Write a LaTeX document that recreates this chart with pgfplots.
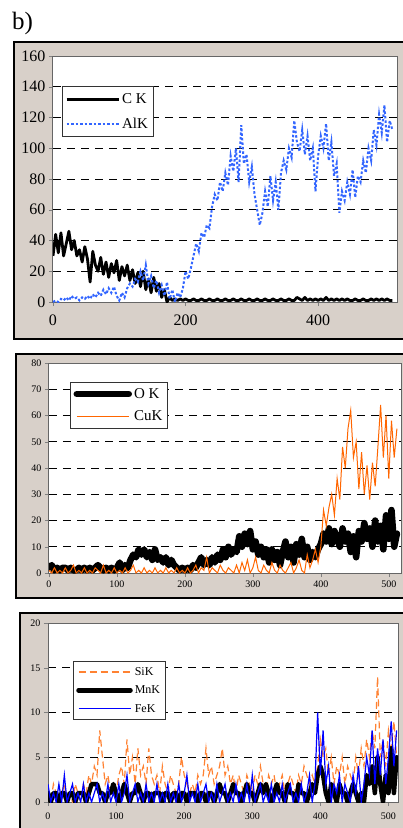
\documentclass[border=0pt]{standalone}
\usepackage{fontspec}
\setmainfont{Liberation Serif}
\usepackage{pgfplots}
\pgfplotsset{compat=1.18}
\usepackage{pgfplotstable}
\definecolor{framegrey}{RGB}{216,208,201}
\definecolor{alblue}{RGB}{51,102,255}
\definecolor{cuorange}{RGB}{255,102,0}
\definecolor{siorange}{RGB}{255,130,50}
\definecolor{feblue}{RGB}{0,0,255}

\pgfplotstableread{
x ck alk
0 30 0
4 44 1
8 32 0
12 45 2
16 30 1
20 38 3
24 46 1
28 34 4
32 40 2
36 30 3
40 34 1
44 26 3
48 36 2
52 28 4
56 13 2
60 33 5
64 24 3
68 20 6
72 29 4
76 18 8
80 26 5
84 16 9
88 25 6
92 19 10
96 27 4
100 14 1
104 23 6
108 17 3
112 24 9
116 14 12
120 21 10
124 12 15
128 19 13
132 10 20
136 20 14
140 8 24
144 15 12
148 6 17
152 16 9
156 7 14
160 12 6
164 3 11
168 8 4
172 0 13
176 3 2
180 1 8
184 2 0
188 1 6
192 2 3
196 1 9
200 2 20
204 1 15
208 1 22
212 2 30
216 1 38
220 1 33
224 2 45
228 1 42
232 1 50
236 2 48
240 1 62
244 1 70
248 2 66
252 1 78
256 1 72
260 2 84
264 1 76
268 1 95
272 2 85
276 1 100
280 1 78
284 2 115
288 1 90
292 1 96
296 2 78
300 1 88
304 1 70
308 2 60
312 1 50
316 1 58
320 2 72
324 1 62
328 1 82
332 2 66
336 1 78
340 1 60
344 2 84
348 1 92
352 1 86
356 2 100
360 1 94
364 1 118
368 3 104
372 2 98
376 1 112
380 3 96
384 1 108
388 2 92
392 1 100
396 2 72
400 1 95
404 2 108
408 1 100
412 3 116
416 1 92
420 2 104
424 1 82
428 2 90
432 1 58
436 2 72
440 1 66
444 2 78
448 1 70
452 1 86
456 2 68
460 1 82
464 1 78
468 2 92
472 1 84
476 1 100
480 2 92
484 1 112
488 2 102
492 1 122
496 2 110
500 1 128
504 2 104
508 1 118
512 1 112
}\tabA

\pgfplotstableread{
x ok cu
0 2 1
4 3 0
8 1 2
12 2 0
16 1 1
20 2 0
24 2 2
28 1 0
32 2 1
36 1 3
40 1 0
44 2 1
48 1 0
52 2 2
56 1 0
60 2 1
64 1 0
68 2 2
72 3 1
76 2 0
80 1 3
84 2 0
88 1 1
92 2 0
96 1 2
100 2 0
104 4 1
108 1 0
112 3 2
116 2 0
120 5 1
124 7 3
128 6 0
132 9 1
136 7 0
140 9 2
144 6 0
148 8 1
152 5 0
156 9 2
160 5 0
164 6 1
168 4 0
172 6 2
176 3 0
180 5 1
184 3 0
188 2 2
192 1 0
196 2 1
200 1 0
204 2 2
208 1 0
212 3 1
216 2 3
220 4 0
224 6 2
228 3 1
232 5 6
236 3 0
240 6 2
244 4 1
248 7 0
252 5 3
256 9 1
260 6 0
264 10 2
268 7 1
272 9 0
276 8 3
280 14 0
284 10 4
288 15 1
292 11 5
296 16 0
300 9 2
304 12 6
308 7 1
312 10 0
316 6 3
320 9 1
324 4 0
328 9 4
332 5 1
336 8 0
340 3 3
344 8 1
348 12 0
352 6 2
356 10 4
360 4 0
364 11 2
368 7 5
372 13 1
376 6 0
380 10 7
384 5 2
388 8 5
392 6 9
396 9 4
400 11 10
404 15 24
408 12 18
412 17 25
416 11 30
420 16 22
424 13 36
428 10 28
432 17 48
436 12 40
440 15 55
444 8 62
448 14 44
452 6 50
456 16 32
460 12 46
464 19 30
468 13 41
472 17 28
476 10 42
480 20 33
484 12 48
488 18 64
492 9 44
496 22 60
500 13 36
504 24 58
508 10 44
512 15 55
}\tabB

\pgfplotstableread{
x si mn fe
0 1 1 2
4 0 0 0
8 2 1 1
12 1 1 0
16 0 0 2
20 1 1 0
24 2 1 3
28 0 0 0
32 1 1 1
36 0 1 2
40 2 0 0
44 1 1 1
48 0 1 0
52 2 1 2
56 1 0 0
60 3 1 1
64 2 2 0
68 4 2 1
72 3 2 2
76 8 1 0
80 5 1 1
84 2 0 0
88 3 1 2
92 1 1 0
96 2 2 1
100 1 1 0
104 3 0 2
108 4 1 0
112 2 2 1
116 7 1 3
120 3 0 0
124 5 1 1
128 2 1 2
132 6 2 0
136 3 1 1
140 4 0 0
144 2 1 2
148 6 1 0
152 3 0 1
156 2 1 0
160 3 1 2
164 1 1 0
168 4 0 1
172 2 1 0
176 1 1 2
180 3 0 0
184 2 1 1
188 1 1 0
192 2 0 2
196 5 1 0
200 3 1 1
204 2 0 3
208 1 1 0
212 2 1 1
216 1 1 0
220 3 0 2
224 2 1 0
228 3 1 1
232 6 0 2
236 3 1 0
240 4 1 1
244 2 0 0
248 3 1 2
252 4 2 0
256 6 1 1
260 3 1 2
264 4 0 0
268 2 1 1
272 3 2 0
276 1 1 2
280 3 1 0
284 2 0 1
288 1 1 0
292 3 2 2
296 2 1 0
300 1 1 3
304 3 0 0
308 2 1 1
312 4 2 2
316 2 1 0
320 1 2 1
324 3 1 0
328 2 0 2
332 3 1 0
336 1 2 1
340 2 1 0
344 3 1 2
348 1 0 0
352 2 2 1
356 3 1 2
360 2 1 0
364 1 0 1
368 3 2 0
372 2 1 2
376 4 1 0
380 3 0 1
384 2 1 3
388 3 2 0
392 2 1 2
396 4 3 10
400 7 4 3
404 5 3 8
408 6 1 2
412 3 0 4
416 5 2 0
420 2 1 2
424 4 0 1
428 3 2 3
432 5 1 0
436 2 1 2
440 4 0 1
444 3 1 0
448 2 2 3
452 5 1 1
456 3 0 4
460 6 1 0
464 4 0 2
468 7 3 5
472 5 2 3
476 8 4 8
480 6 1 2
484 14 5 6
488 5 2 3
492 7 0 7
496 4 3 2
500 8 1 5
504 6 6 9
508 9 1 4
512 5 5 8
}\tabC

\pgfplotsset{
  panel/.style={
    scale only axis,
    anchor=south west,
    axis background/.style={fill=white},
    xmin=0, ymin=0,
    tick align=outside, xtick pos=left, ytick pos=left,
    major tick length=4pt,
    axis line style={draw=black!60, line width=1pt},
    ymajorgrids,
    grid style={black, dash pattern=on 8pt off 6pt, line width=0.9pt},
    /pgf/number format/assume math mode=true,
    legend cell align=left,
    legend style={draw=black!80, line width=0.8pt, fill=white, anchor=north west},
  }
}

\begin{document}
\begin{tikzpicture}
\useasboundingbox (0,0) rectangle (403pt,-828pt);
\node[anchor=base west, inner sep=0pt, font=\fontsize{25}{30}\selectfont] at (12pt,-29pt) {b)};
\filldraw[fill=framegrey, draw=black, line width=1.5pt] (14pt,-42pt) rectangle (412pt,-339pt);
\filldraw[fill=framegrey, draw=black, line width=1.5pt] (16pt,-354pt) rectangle (412pt,-598pt);
\filldraw[fill=framegrey, draw=black, line width=1.5pt] (20pt,-613pt) rectangle (412pt,-840pt);

\begin{axis}[panel, at={(53pt,-302pt)}, width=344pt, height=246pt,
  xmax=519, ymax=160, ytick={0,20,...,160}, xtick={0,200,400},
  tick label style={font=\fontsize{16}{19}\selectfont},
  xticklabel style={yshift=-5pt},
  legend style={at={(0.026,0.878)}, font=\fontsize{15}{18}\selectfont,
    row sep=9pt, inner xsep=3pt, inner ysep=5pt},
  legend image code/.code={\draw[#1] (0pt,0pt) -- (52pt,0pt);}]
\addplot[black, line width=2.8pt, line join=round] table[x=x,y=ck]{\tabA};
\addlegendentry{C K}
\addplot[alblue, line width=2pt, dash pattern=on 2.5pt off 2pt] table[x=x,y=alk]{\tabA};
\addlegendentry{AlK}
\end{axis}

\begin{axis}[panel, at={(49pt,-573pt)}, width=352pt, height=210pt,
  xmax=518, ymax=80, ytick={0,10,...,80}, xtick={0,100,...,500},
  tick label style={font=\fontsize{10}{12}\selectfont},
  legend style={at={(0.06,0.91)}, font=\fontsize{15}{18}\selectfont,
    row sep=7pt, inner xsep=3pt, inner ysep=4pt},
  legend image code/.code={\draw[#1] (0pt,0pt) -- (52pt,0pt);}]
\addplot[black, line width=6.5pt, line join=round, line cap=round] table[x=x,y=ok]{\tabB};
\addlegendentry{O K}
\addplot[cuorange, line width=1pt] table[x=x,y=cu]{\tabB};
\addlegendentry{CuK}
\end{axis}

\begin{axis}[panel, at={(48pt,-802pt)}, width=350pt, height=179pt,
  xmax=514, ymax=20, ytick={0,5,...,20}, xtick={0,100,...,500},
  tick label style={font=\fontsize{10}{12}\selectfont},
  xticklabel style={yshift=-3pt},
  legend style={at={(0.071,0.788)}, font=\fontsize{12}{14}\selectfont,
    row sep=5pt, inner xsep=3pt, inner ysep=4pt},
  legend image code/.code={\draw[#1] (0pt,0pt) -- (52pt,0pt);}]
\addplot[siorange, line width=1.2pt, dash pattern=on 7pt off 4pt] table[x=x,y=si]{\tabC};
\addlegendentry{SiK}
\addplot[black, line width=4.5pt, line join=round, line cap=round] table[x=x,y=mn]{\tabC};
\addlegendentry{MnK}
\addplot[feblue, line width=1.2pt] table[x=x,y=fe]{\tabC};
\addlegendentry{FeK}
\end{axis}
\end{tikzpicture}
\end{document}
